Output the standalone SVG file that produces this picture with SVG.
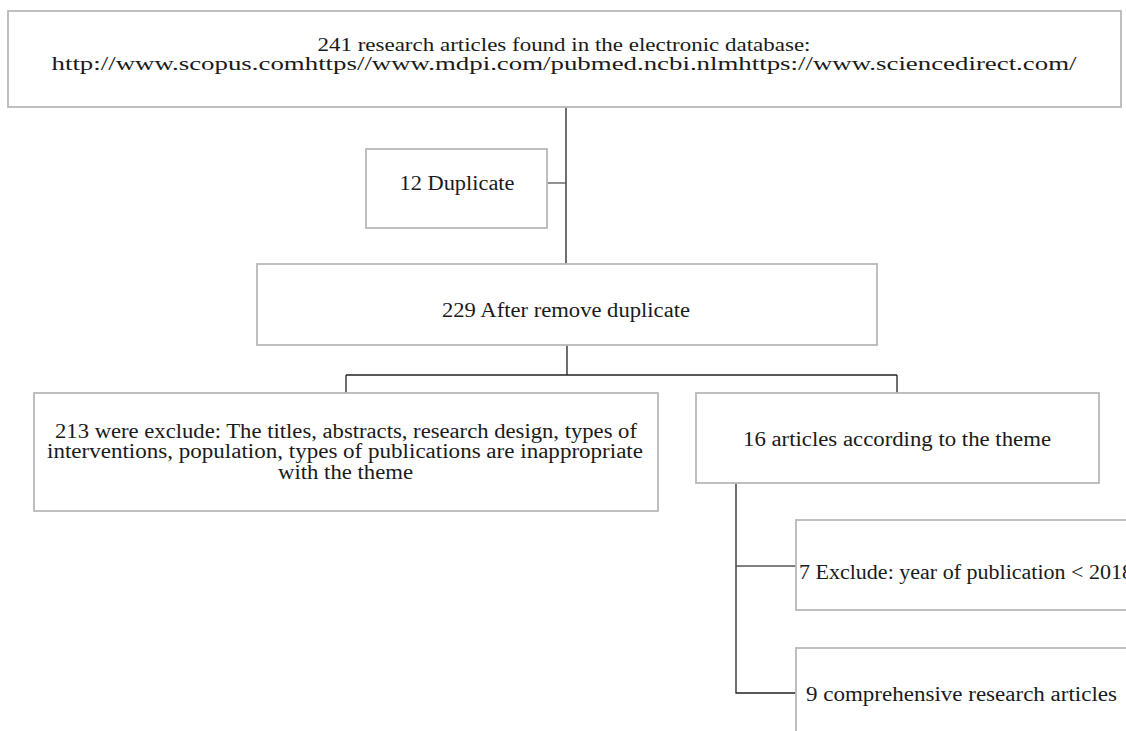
<svg xmlns="http://www.w3.org/2000/svg" width="1126" height="731" viewBox="0 0 1126 731">
<style>
.box{fill:#ffffff;stroke:#b8b8b8;stroke-width:1.8}
.t{font-family:"Liberation Serif","Times New Roman",serif;font-size:20px;fill:#1a1a1a}
.s{font-size:19px}
.c{text-anchor:middle}
.ln{fill:none;stroke:#222;stroke-width:1.3}
.lg{fill:none;stroke:#555;stroke-width:1.3}
</style>
<rect x="0" y="0" width="1126" height="731" fill="#ffffff"/>
<g id="connectors">
<path class="ln" d="M566 107 V264"/>
<path class="lg" d="M547 183 H566"/>
<path class="ln" d="M567 345 V375 M346 375 H897 M346 375 V393 M897 375 V393"/>
<path class="ln" d="M736 483 V693 H796"/>
<path class="lg" d="M736 566 H796"/>
</g>
<g id="n-source">
<rect class="box" x="8" y="11" width="1113" height="96"/>
<text class="t s c" x="564" y="51" textLength="493" lengthAdjust="spacingAndGlyphs">241 research articles found in the electronic database:</text>
<text class="t s c" x="564" y="70" textLength="1025" lengthAdjust="spacingAndGlyphs">http://www.scopus.comhttps//www.mdpi.com/pubmed.ncbi.nlmhttps://www.sciencedirect.com/</text>
</g>
<g id="n-duplicate">
<rect class="box" x="366" y="149" width="181" height="79"/>
<text class="t c" x="457" y="190" textLength="115" lengthAdjust="spacingAndGlyphs">12 Duplicate</text>
</g>
<g id="n-after">
<rect class="box" x="257" y="264" width="620" height="81"/>
<text class="t c" x="566" y="317" textLength="248" lengthAdjust="spacingAndGlyphs">229 After remove duplicate</text>
</g>
<g id="n-excluded">
<rect class="box" x="34" y="393" width="624" height="118"/>
<text class="t c" x="346" y="438" textLength="582" lengthAdjust="spacingAndGlyphs">213 were exclude: The titles, abstracts, research design, types of</text>
<text class="t c" x="345" y="458" textLength="596" lengthAdjust="spacingAndGlyphs">interventions, population, types of publications are inappropriate</text>
<text class="t c" x="345.5" y="479" textLength="135" lengthAdjust="spacingAndGlyphs">with the theme</text>
</g>
<g id="n-theme">
<rect class="box" x="696" y="393" width="403" height="90"/>
<text class="t c" x="897" y="446" textLength="308" lengthAdjust="spacingAndGlyphs">16 articles according to the theme</text>
</g>
<g id="n-year">
<rect class="box" x="796" y="520" width="340" height="90"/>
<text class="t" x="799" y="579" textLength="334" lengthAdjust="spacingAndGlyphs">7 Exclude: year of publication &lt; 2018</text>
</g>
<g id="n-final">
<rect class="box" x="796" y="648" width="340" height="100"/>
<text class="t" x="806" y="701" textLength="311" lengthAdjust="spacingAndGlyphs">9 comprehensive research articles</text>
</g>
</svg>
